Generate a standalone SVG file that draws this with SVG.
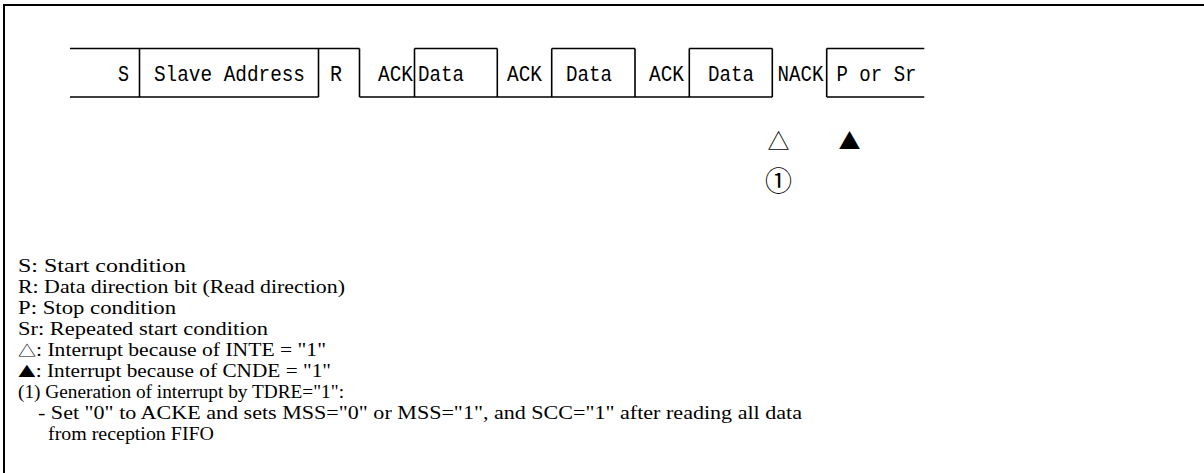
<svg xmlns="http://www.w3.org/2000/svg" width="1204" height="473" viewBox="0 0 1204 473">
<style>
.ln{stroke:#000;stroke-width:1.6;fill:none}
.fr{stroke:#000;stroke-width:2;fill:none}
.bt{font-family:"Liberation Mono","DejaVu Sans Mono",monospace;font-size:22px;fill:#000}
.lg{font-family:"Liberation Serif","Noto Sans CJK JP",serif;font-size:18px;fill:#000}
.mk{font-family:"Noto Sans CJK JP","Liberation Serif",serif;font-size:22px;fill:#000}
.cn{font-family:"Noto Sans CJK JP","Liberation Serif",serif;font-size:27px;fill:#000}
.cj{font-family:"Noto Sans CJK JP",serif;font-size:15px}
</style>
<rect width="1204" height="473" fill="#fff"/>
<g id="frame">
<path class="fr" d="M1204,5 H4 V473"/>
</g>
<g id="connectors">
<path class="ln" d="M70,48.5 H359.5 M414.5,48.5 H497.3 M551.7,48.5 H635 M689.3,48.5 H772.3 M826.7,48.5 H924.3"/>
<path class="ln" d="M70,97 H318.5 M359.5,97 H772.3 M826.7,97 H924.3"/>
<path class="ln" d="M139.5,48.5 V97 M318.5,48.5 V97 M359.5,48.5 V97 M414.5,48.5 V97 M497.3,48.5 V97 M551.7,48.5 V97 M635,48.5 V97 M689.3,48.5 V97 M772.3,48.5 V97 M826.7,48.5 V97"/>
</g>
<g id="field-S"><text class="bt" x="129" y="81" text-anchor="end" textLength="11" lengthAdjust="spacingAndGlyphs">S</text></g>
<g id="field-address"><text class="bt" x="154" y="81" textLength="151" lengthAdjust="spacingAndGlyphs">Slave Address</text></g>
<g id="field-R"><text class="bt" x="330" y="81" textLength="12" lengthAdjust="spacingAndGlyphs">R</text></g>
<g id="field-ack1"><text class="bt" x="378" y="81" textLength="35" lengthAdjust="spacingAndGlyphs">ACK</text></g>
<g id="field-data1"><text class="bt" x="418" y="81" textLength="46" lengthAdjust="spacingAndGlyphs">Data</text></g>
<g id="field-ack2"><text class="bt" x="507" y="81" textLength="35" lengthAdjust="spacingAndGlyphs">ACK</text></g>
<g id="field-data2"><text class="bt" x="566" y="81" textLength="46" lengthAdjust="spacingAndGlyphs">Data</text></g>
<g id="field-ack3"><text class="bt" x="649" y="81" textLength="35" lengthAdjust="spacingAndGlyphs">ACK</text></g>
<g id="field-data3"><text class="bt" x="708" y="81" textLength="46" lengthAdjust="spacingAndGlyphs">Data</text></g>
<g id="field-nack"><text class="bt" x="777.5" y="81" textLength="46" lengthAdjust="spacingAndGlyphs">NACK</text></g>
<g id="field-p"><text class="bt" x="836.5" y="81" textLength="80" lengthAdjust="spacingAndGlyphs">P or Sr</text></g>
<g id="marker-inte"><text class="mk" x="778.5" y="149" text-anchor="middle">△</text></g>
<g id="marker-cnde"><text class="mk" x="849.5" y="149" text-anchor="middle">▲</text></g>
<g id="marker-1"><text class="cn" x="778.5" y="191" text-anchor="middle">①</text></g>
<g id="legend">
<text class="lg" x="18" y="272" textLength="168" lengthAdjust="spacingAndGlyphs">S: Start condition</text>
<text class="lg" x="18" y="293" textLength="327" lengthAdjust="spacingAndGlyphs">R: Data direction bit (Read direction)</text>
<text class="lg" x="18" y="314" textLength="158" lengthAdjust="spacingAndGlyphs">P: Stop condition</text>
<text class="lg" x="18" y="335" textLength="250" lengthAdjust="spacingAndGlyphs">Sr: Repeated start condition</text>
<text class="lg" x="18" y="356" textLength="308" lengthAdjust="spacingAndGlyphs"><tspan class="cj">△</tspan>: Interrupt because of INTE = "1"</text>
<text class="lg" x="18" y="377" textLength="313" lengthAdjust="spacingAndGlyphs"><tspan class="cj">▲</tspan>: Interrupt because of CNDE = "1"</text>
<text class="lg" x="18" y="398" textLength="326" lengthAdjust="spacingAndGlyphs">(1) Generation of interrupt by TDRE="1":</text>
<text class="lg" x="38" y="419" textLength="764" lengthAdjust="spacingAndGlyphs">- Set "0" to ACKE and sets MSS="0" or MSS="1", and SCC="1" after reading all data</text>
<text class="lg" x="48" y="440" textLength="166" lengthAdjust="spacingAndGlyphs">from reception FIFO</text>
</g>
</svg>
